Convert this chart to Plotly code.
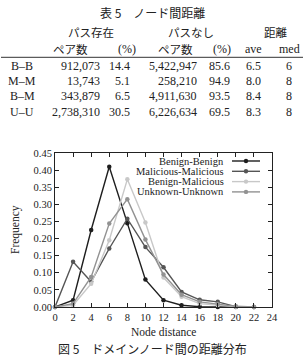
import plotly.graph_objects as go

# ---------------- data ----------------
distance = [0, 2, 4, 6, 8, 10, 12, 14, 16, 18, 20, 22]
benign_benign = [0.0, 0.02, 0.225, 0.41, 0.245, 0.08, 0.02, 0.005, 0.001, 0.0, 0.0, 0.0]
malicious_malicious = [0.0, 0.132, 0.074, 0.171, 0.258, 0.175, 0.116, 0.044, 0.021, 0.015, 0.001, 0.0]
benign_malicious = [0.0, 0.005, 0.068, 0.195, 0.373, 0.247, 0.086, 0.03, 0.01, 0.005, 0.001, 0.0]
unknown_unknown = [0.0, 0.01, 0.088, 0.244, 0.315, 0.197, 0.095, 0.036, 0.015, 0.009, 0.002, 0.0]

series_names = ["Benign-Benign", "Malicious-Malicious", "Benign-Malicious", "Unknown-Unknown"]
series_values = [benign_benign, malicious_malicious, benign_malicious, unknown_unknown]
series_colors = ["#1e1e1e", "#555555", "#c8c8c8", "#929292"]

x_ticks = list(range(0, 25, 2))
y_ticks = [i * 0.05 for i in range(10)]

table_title = "表 5　ノード間距離"
table_group_headers = ["パス存在", "パスなし", "距離"]
table_sub_headers = ["ペア数", "(%)", "ペア数", "(%)", "ave", "med"]
row_labels = ["B–B", "M–M", "B–M", "U–U"]
pairs_path = ["912,073", "13,743", "343,879", "2,738,310"]
pct_path = ["14.4", "5.1", "6.5", "30.5"]
pairs_nopath = ["5,422,947", "258,210", "4,911,630", "6,226,634"]
pct_nopath = ["85.6", "94.9", "93.5", "69.5"]
dist_ave = ["6.5", "8.0", "8.4", "8.3"]
dist_med = ["6", "8", "8", "8"]
caption = "図 5　ドメインノード間の距離分布"

# ---------------- layout geometry (pixels) ----------------
W, H = 305, 356
L, R, T, B = 55, 272, 153, 307  # plot area edges in pixels

def px(x):
    return (x - L) / (R - L)

def py(y):
    return (B - y) / (B - T)

SERIF = "Liberation Serif, Times New Roman, serif"
CJK = "Noto Sans CJK JP, sans-serif"

fig = go.Figure()

for name, vals, col in zip(series_names, series_values, series_colors):
    fig.add_trace(go.Scatter(
        x=distance, y=vals, mode="lines+markers", name=name,
        line=dict(color=col, width=1.4),
        marker=dict(color=col, size=4.5, symbol="circle"),
        showlegend=False, cliponaxis=False,
    ))

annotations = []
shapes = []

# legend (gnuplot style: text right aligned, sample on the right)
legend_rows = [161, 171.3, 181.6, 191.9]
for name, col, yy in zip(series_names, series_colors, legend_rows):
    annotations.append(dict(x=px(226), y=py(yy), xref="paper", yref="paper",
                            text=name, showarrow=False, xanchor="right", yanchor="middle",
                            font=dict(family=SERIF, size=10.5, color="#222")))
    shapes.append(dict(type="line", xref="paper", yref="paper",
                       x0=px(232), x1=px(260), y0=py(yy), y1=py(yy),
                       line=dict(color=col, width=1.4)))
    shapes.append(dict(type="circle", xref="paper", yref="paper",
                       xsizemode="pixel", ysizemode="pixel",
                       xanchor=px(246), yanchor=py(yy),
                       x0=-2.2, x1=2.2, y0=-2.2, y1=2.2,
                       fillcolor=col, line=dict(color=col, width=0)))

# axis titles
annotations.append(dict(x=px(163), y=py(332), xref="paper", yref="paper",
                        text="Node distance", showarrow=False, xanchor="center", yanchor="middle",
                        font=dict(family=SERIF, size=11.5, color="#222")))
annotations.append(dict(x=px(15), y=py(230), xref="paper", yref="paper",
                        text="Frequency", showarrow=False, textangle=-90,
                        xanchor="center", yanchor="middle",
                        font=dict(family=SERIF, size=11.5, color="#222")))

# table
def txt(x, y, s, anchor="center", font=SERIF, size=12):
    annotations.append(dict(x=px(x), y=py(y), xref="paper", yref="paper", text=s,
                            showarrow=False, xanchor=anchor, yanchor="middle",
                            font=dict(family=font, size=size, color="#222")))

txt(152, 12.5, table_title, font=CJK, size=12)
for s, xx in zip(table_group_headers, [91, 191, 276]):
    txt(xx, 32, s, font=CJK, size=11.5)
for s, xx in zip(table_sub_headers, [70, 127, 175, 222, 253, 289]):
    f = CJK if "ペア" in s else SERIF
    txt(xx, 49, s, font=f, size=11.5 if f == CJK else 12)
shapes.append(dict(type="line", xref="paper", yref="paper",
                   x0=px(1), x1=px(303), y0=py(57.3), y1=py(57.3),
                   line=dict(color="#333", width=1)))
row_y = [65.7, 80.6, 95.8, 111.5]
for i, yy in enumerate(row_y):
    txt(22, yy, row_labels[i])
    txt(102, yy, pairs_path[i], anchor="right")
    txt(131.5, yy, pct_path[i], anchor="right")
    txt(198.5, yy, pairs_nopath[i], anchor="right")
    txt(231.5, yy, pct_nopath[i], anchor="right")
    txt(253, yy, dist_ave[i])
    txt(288.5, yy, dist_med[i])

# caption (kept fully inside the picture)
txt(152, 348.5, caption, font=CJK, size=12)

axis_common = dict(showline=True, linecolor="#222", linewidth=1, mirror="allticks",
                   ticks="inside", ticklen=4, tickcolor="#222", tickwidth=1,
                   showgrid=False, zeroline=False,
                   tickfont=dict(family=SERIF, size=10.5, color="#222"))

fig.update_layout(
    width=W, height=H, autosize=False,
    margin=dict(l=L, r=W - R, t=T, b=H - B, pad=0),
    paper_bgcolor="white", plot_bgcolor="white",
    xaxis=dict(range=[0, 24], tickvals=x_ticks, ticktext=[str(v) for v in x_ticks], **axis_common),
    yaxis=dict(range=[0, 0.45], tickvals=y_ticks, ticktext=[f"{v:.2f}" for v in y_ticks], **axis_common),
    annotations=annotations, shapes=shapes, showlegend=False,
)

fig.write_html("out.html")
